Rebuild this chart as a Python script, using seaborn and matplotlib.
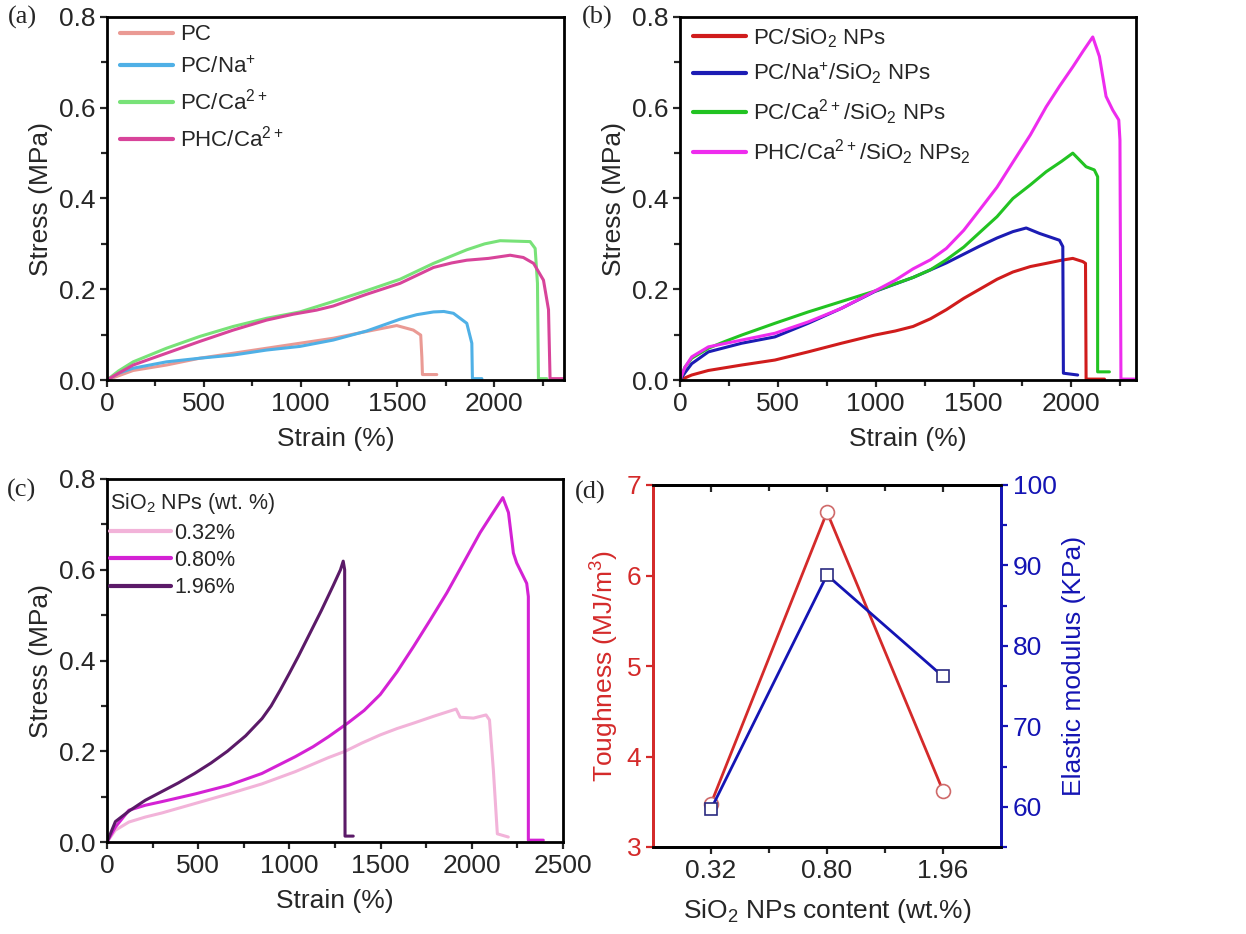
import numpy as np
import pandas as pd
import seaborn as sns
import matplotlib.pyplot as plt
from matplotlib.ticker import MultipleLocator, FixedLocator

#------------------------------------------------------------------------------
# Data
#------------------------------------------------------------------------------

# (a) stress-strain curves without SiO2
pc_strain = [0, 135, 307, 479, 652, 824, 996, 1168, 1341, 1496, 1582, 1620, 1626, 1629, 1703]
pc_stress = [0, 0.021, 0.033, 0.048, 0.059, 0.070, 0.081, 0.092, 0.107, 0.120, 0.110, 0.099, 0.050, 0.012, 0.012]

na_strain = [0, 60, 135, 307, 479, 652, 824, 996, 1168, 1341, 1513, 1600, 1686, 1740, 1789, 1858, 1884, 1887, 1936]
na_stress = [0, 0.015, 0.026, 0.040, 0.048, 0.055, 0.066, 0.074, 0.088, 0.108, 0.134, 0.144, 0.150, 0.151, 0.147, 0.125, 0.081, 0.003, 0.003]

ca_strain = [0, 60, 135, 307, 479, 652, 824, 996, 1168, 1341, 1513, 1686, 1858, 1950, 2030, 2185, 2211, 2223, 2228, 2271]
ca_stress = [0, 0.020, 0.040, 0.070, 0.096, 0.118, 0.136, 0.150, 0.173, 0.197, 0.222, 0.257, 0.287, 0.300, 0.307, 0.305, 0.290, 0.213, 0.003, 0.003]

phc_strain = [0, 60, 135, 307, 479, 652, 824, 962, 1082, 1168, 1341, 1513, 1686, 1780, 1858, 1970, 2082, 2150, 2203, 2254, 2280, 2288, 2357]
phc_stress = [0, 0.015, 0.033, 0.059, 0.085, 0.110, 0.132, 0.145, 0.154, 0.163, 0.189, 0.213, 0.248, 0.258, 0.264, 0.268, 0.275, 0.270, 0.257, 0.220, 0.155, 0.003, 0.003]

# (b) stress-strain curves with SiO2 NPs
pcs_strain = [0, 60, 145, 315, 485, 655, 825, 995, 1100, 1191, 1280, 1361, 1450, 1531, 1620, 1701, 1790, 1871, 1950, 2007, 2058, 2072, 2075, 2169]
pcs_stress = [0, 0.011, 0.021, 0.033, 0.044, 0.062, 0.081, 0.099, 0.108, 0.118, 0.135, 0.155, 0.180, 0.200, 0.222, 0.238, 0.250, 0.257, 0.264, 0.268, 0.261, 0.257, 0.002, 0.002]

nas_strain = [0, 25, 60, 145, 315, 485, 655, 825, 995, 1191, 1361, 1531, 1620, 1701, 1769, 1837, 1939, 1956, 1959, 2032]
nas_stress = [0, 0.016, 0.036, 0.062, 0.081, 0.095, 0.125, 0.158, 0.195, 0.226, 0.258, 0.295, 0.313, 0.327, 0.335, 0.323, 0.308, 0.294, 0.015, 0.011]

cas_strain = [0, 25, 60, 145, 230, 315, 485, 655, 825, 995, 1191, 1280, 1361, 1450, 1531, 1620, 1701, 1790, 1871, 1950, 2007, 2041, 2075, 2117, 2134, 2134, 2194]
cas_stress = [0, 0.028, 0.048, 0.070, 0.085, 0.099, 0.125, 0.150, 0.173, 0.196, 0.226, 0.243, 0.265, 0.293, 0.325, 0.360, 0.400, 0.430, 0.459, 0.482, 0.500, 0.485, 0.470, 0.463, 0.448, 0.018, 0.018]

phcs_strain = [0, 25, 60, 145, 315, 485, 655, 825, 995, 1100, 1191, 1280, 1361, 1450, 1531, 1620, 1701, 1790, 1871, 1940, 2007, 2060, 2109, 2143, 2177, 2211, 2242, 2248, 2253, 2322]
phcs_stress = [0, 0.028, 0.051, 0.073, 0.088, 0.103, 0.128, 0.158, 0.196, 0.220, 0.245, 0.265, 0.290, 0.330, 0.375, 0.425, 0.480, 0.540, 0.602, 0.648, 0.690, 0.725, 0.756, 0.713, 0.625, 0.595, 0.573, 0.529, 0.002, 0.002]

# (c) effect of SiO2 content
low_strain = [0, 46, 120, 210, 301, 484, 667, 849, 1032, 1214, 1306, 1397, 1498, 1590, 1681, 1790, 1914, 1936, 2009, 2078, 2097, 2118, 2140, 2200]
low_stress = [0, 0.026, 0.044, 0.055, 0.064, 0.085, 0.106, 0.128, 0.155, 0.186, 0.200, 0.218, 0.236, 0.250, 0.262, 0.277, 0.293, 0.275, 0.273, 0.280, 0.269, 0.160, 0.018, 0.011]

mid_strain = [0, 46, 120, 210, 301, 484, 667, 849, 1032, 1130, 1214, 1323, 1410, 1498, 1590, 1681, 1770, 1863, 1950, 2046, 2110, 2170, 2201, 2228, 2246, 2301, 2310, 2310, 2392]
mid_stress = [0, 0.033, 0.070, 0.081, 0.089, 0.106, 0.125, 0.151, 0.188, 0.210, 0.232, 0.263, 0.290, 0.325, 0.375, 0.431, 0.488, 0.549, 0.612, 0.682, 0.722, 0.759, 0.726, 0.637, 0.615, 0.570, 0.541, 0.004, 0.004]

high_strain = [0, 46, 120, 210, 300, 390, 480, 570, 660, 760, 850, 900, 950, 1000, 1050, 1100, 1175, 1240, 1280, 1295, 1303, 1305, 1350]
high_stress = [0, 0.045, 0.068, 0.092, 0.111, 0.130, 0.151, 0.174, 0.200, 0.234, 0.272, 0.300, 0.335, 0.372, 0.410, 0.450, 0.510, 0.565, 0.600, 0.619, 0.600, 0.013, 0.013]

# (d) toughness and elastic modulus
content_labels = ['0.32', '0.80', '1.96']
toughness = [3.48, 6.70, 3.62]
modulus = [59.7, 88.8, 76.2]

#------------------------------------------------------------------------------
# Style
#------------------------------------------------------------------------------

sns.set_style('ticks')
plt.rcParams['font.family'] = ['Liberation Sans', 'DejaVu Sans']
plt.rcParams['mathtext.default'] = 'regular'
plt.rcParams['axes.linewidth'] = 2.0
plt.rcParams['xtick.major.width'] = 1.6
plt.rcParams['ytick.major.width'] = 1.6
plt.rcParams['xtick.minor.width'] = 1.6
plt.rcParams['ytick.minor.width'] = 1.6
plt.rcParams['xtick.major.size'] = 5
plt.rcParams['ytick.major.size'] = 5
plt.rcParams['xtick.minor.size'] = 4
plt.rcParams['ytick.minor.size'] = 4
plt.rcParams['xtick.labelsize'] = 19
plt.rcParams['ytick.labelsize'] = 19
plt.rcParams['axes.labelsize'] = 19

W, H = 1246, 934
fig = plt.figure(figsize=(W / 100, H / 100), dpi=100)

def px_axes(left, top, right, bottom):
    return fig.add_axes([left / W, 1 - bottom / H, (right - left) / W, (bottom - top) / H])

def make_long(curves):
    frames = []
    for name, s, y in curves:
        frames.append(pd.DataFrame({'strain': s, 'stress': y, 'sample': name}))
    return pd.concat(frames, ignore_index=True)

def strain_axes(ax, xmax):
    ax.set_xlim(0, xmax)
    ax.set_ylim(0, 0.8)
    ax.xaxis.set_major_locator(MultipleLocator(500))
    ax.xaxis.set_minor_locator(MultipleLocator(250))
    ax.yaxis.set_major_locator(MultipleLocator(0.2))
    ax.yaxis.set_minor_locator(MultipleLocator(0.1))
    ax.yaxis.set_major_formatter(plt.FormatStrFormatter('%.1f'))
    ax.tick_params(which='both', direction='out', top=False, right=False)
    ax.set_xlabel('Strain (%)', labelpad=8)
    ax.set_ylabel('Stress (MPa)')
    for sp in ax.spines.values():
        sp.set_visible(True)
        sp.set_color('black')

def draw_curves(ax, curves, colors, lw=2.2):
    df = make_long(curves)
    names = [c[0] for c in curves]
    sns.lineplot(data=df, x='strain', y='stress', hue='sample', hue_order=names,
                 palette=dict(zip(names, colors)), estimator=None, sort=False,
                 linewidth=lw, ax=ax, legend=True)
    leg = ax.get_legend()
    handles = leg.legend_handles
    labels = [t.get_text() for t in leg.get_texts()]
    leg.remove()
    for h in handles:
        h.set_linewidth(3)
    return handles, labels

#------------------------------------------------------------------------------
# (a)
#------------------------------------------------------------------------------

ax_a = px_axes(107, 17, 564, 380)
curves_a = [('PC', pc_strain, pc_stress),
            ('PC/Na$^{+}$', na_strain, na_stress),
            ('PC/Ca$^{2+}$', ca_strain, ca_stress),
            ('PHC/Ca$^{2+}$', phc_strain, phc_stress)]
h, l = draw_curves(ax_a, curves_a, ['#ea9a94', '#4fb0e6', '#78e278', '#d8449a'])
ax_a.legend(h, l, loc='upper left', bbox_to_anchor=(-0.015, 1.035), frameon=False,
            fontsize=16, handlelength=2.4, handletextpad=0.3, labelspacing=0.5)
strain_axes(ax_a, 2360)

#------------------------------------------------------------------------------
# (b)
#------------------------------------------------------------------------------

ax_b = px_axes(680, 17, 1136, 380)
curves_b = [('PC/SiO$_2$ NPs', pcs_strain, pcs_stress),
            ('PC/Na$^{+}$/SiO$_2$ NPs', nas_strain, nas_stress),
            ('PC/Ca$^{2+}$/SiO$_2$ NPs', cas_strain, cas_stress),
            ('PHC/Ca$^{2+}$/SiO$_2$ NPs$_2$', phcs_strain, phcs_stress)]
h, l = draw_curves(ax_b, curves_b, ['#d01c1c', '#1c1cb4', '#22c322', '#ee2cee'])
ax_b.legend(h, l, loc='upper left', bbox_to_anchor=(-0.015, 1.03), frameon=False,
            fontsize=16, handlelength=2.4, handletextpad=0.3, labelspacing=0.5)
strain_axes(ax_b, 2330)

#------------------------------------------------------------------------------
# (c)
#------------------------------------------------------------------------------

ax_c = px_axes(107, 479, 563, 842)
curves_c = [('0.32%', low_strain, low_stress),
            ('0.80%', mid_strain, mid_stress),
            ('1.96%', high_strain, high_stress)]
h, l = draw_curves(ax_c, curves_c, ['#f2b3d9', '#d422d4', '#5b1a68'])
leg_c = ax_c.legend(h, l, loc='upper left', bbox_to_anchor=(-0.035, 1.02), frameon=False,
                    fontsize=15.5, handlelength=2.8, handletextpad=0.15, labelspacing=0.3,
                    title='SiO$_2$ NPs (wt. %)', title_fontsize=15.5)
leg_c._legend_box.align = 'left'
strain_axes(ax_c, 2500)

#------------------------------------------------------------------------------
# (d)
#------------------------------------------------------------------------------

red = '#d42a2a'
blue = '#1414b4'
ax_d = px_axes(653, 485, 1001, 847)
pos = np.arange(len(content_labels))
sns.lineplot(x=pos, y=toughness, color=red, linewidth=2.0, marker='o', markersize=10,
             markerfacecolor='white', markeredgecolor='#cf6a6a', markeredgewidth=1.2, ax=ax_d)
ax_d.set_xlim(-0.5, 2.5)
ax_d.set_ylim(3, 7)
ax_d.xaxis.set_major_locator(FixedLocator(pos))
ax_d.xaxis.set_minor_locator(FixedLocator(pos[:-1] + 0.5))
ax_d.set_xticklabels(content_labels)
ax_d.yaxis.set_major_locator(MultipleLocator(1))
ax_d.tick_params(axis='x', which='both', direction='out', top=False, bottom=True)
ax_d.tick_params(axis='y', colors=red, labelcolor=red, direction='out')
ax_d.set_xlabel('SiO$_2$ NPs content (wt.%)', labelpad=10)
ax_d.set_ylabel('Toughness (MJ/m$^3$)', color=red)

top = ax_d.secondary_xaxis('top')
top.xaxis.set_major_locator(FixedLocator(pos))
top.xaxis.set_minor_locator(FixedLocator(pos[:-1] + 0.5))
top.tick_params(axis='x', which='both', direction='in', labeltop=False)
top.spines['top'].set_linewidth(2.0)

ax_e = ax_d.twinx()
sns.lineplot(x=pos, y=modulus, color=blue, linewidth=2.0, marker='s', markersize=9,
             markerfacecolor='white', markeredgecolor='#2a2a80', markeredgewidth=1.2, ax=ax_e)
ax_e.set_ylim(55, 100)
ax_e.yaxis.set_major_locator(MultipleLocator(10))
ax_e.yaxis.set_minor_locator(MultipleLocator(5))
ax_e.tick_params(axis='y', which='both', colors=blue, labelcolor=blue, direction='out')
ax_e.set_ylabel('Elastic modulus (KPa)', color=blue)
for a in (ax_d, ax_e):
    for sp in ('left', 'right', 'top', 'bottom'):
        a.spines[sp].set_visible(True)
    a.spines['left'].set_color(red)
    a.spines['right'].set_color(blue)
    a.spines['top'].set_color('black')
    a.spines['bottom'].set_color('black')

#------------------------------------------------------------------------------
# Panel letters
#------------------------------------------------------------------------------

for txt, x, y in [('(a)', 22, 17), ('(b)', 597, 17), ('(c)', 22, 490), ('(d)', 590, 492)]:
    fig.text(x / W, 1 - y / H, txt, fontsize=19, family='Liberation Serif', ha='center', va='center')

fig.savefig('out.png', dpi=100)
